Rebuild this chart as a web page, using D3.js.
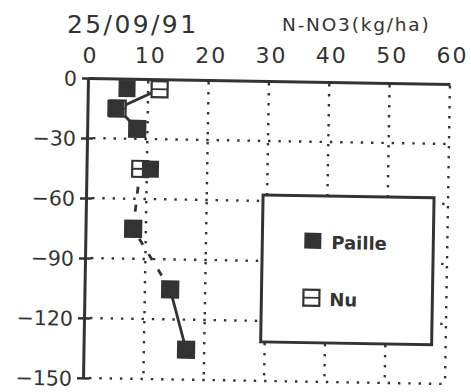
<!DOCTYPE html>
<html><head><meta charset="utf-8">
<script src="https://cdn.jsdelivr.net/npm/d3@7"></script>
<style>body{margin:0;background:#fff}</style>
</head><body>
<script>
const depths = [-5, -15, -25, -45, -75, -105, -135];
const paille = [6.5, 4.7, 8.3, 10.6, 7.9, 14.2, 17.0];
const nu = [11.9, 5.0, 8.3, 8.9, 7.9, 14.2, 17.0];
const xTicks = [0, 10, 20, 30, 40, 50, 60];
const yTicks = [0, -30, -60, -90, -120, -150];
const title = "25/09/91";
const unitLabel = "N-NO3(kg/ha)";
const seriesNames = ["Paille", "Nu"];

const W = 471, H = 392;
const ink = "#333";
const font = "'DejaVu Sans', Verdana, sans-serif";
const svg = d3.select("body").append("svg").attr("width", W).attr("height", H);
const x = d3.scaleLinear().domain([0, 60]).range([88, 450]);
const y = d3.scaleLinear().domain([0, -150]).range([78, 378]);

// frame drawn slightly skewed, as in the scanned original
const plot = svg.append("g").attr("transform", `rotate(0.95,${x(0)},${y(0)})`);

// grid
plot.append("g").selectAll("line").data(xTicks.slice(1)).join("line")
  .attr("x1", d => x(d)).attr("x2", d => x(d)).attr("y1", y(0) + 2).attr("y2", y(-150))
  .attr("stroke", ink).attr("stroke-width", 2.4).attr("stroke-dasharray", "2.4,7.6");
plot.append("g").selectAll("line").data(yTicks.slice(1)).join("line")
  .attr("x1", x(0) + 6).attr("x2", x(60)).attr("y1", d => y(d)).attr("y2", d => y(d))
  .attr("stroke", ink).attr("stroke-width", 2.4).attr("stroke-dasharray", "2.4,7.9");

// top axis line (labels drawn unrotated below)
const topLine = plot.append("g").attr("transform", `translate(0,${y(0)})`)
  .call(d3.axisTop(x).tickValues([]).tickSizeOuter(0));
topLine.select(".domain").attr("stroke", ink).attr("stroke-width", 3);

const leftAxis = plot.append("g").attr("transform", `translate(${x(0)},0)`)
  .call(d3.axisLeft(y).tickValues(yTicks).tickSize(6).tickSizeOuter(0).tickPadding(5)
    .tickFormat(d => d === 0 ? "0" : "\u2212" + Math.abs(d)));
leftAxis.select(".domain").attr("stroke", ink).attr("stroke-width", 3);
leftAxis.selectAll(".tick line").attr("stroke", ink).attr("stroke-width", 2.5).attr("x2", 6).attr("x1", -6);
leftAxis.selectAll("text").attr("font-family", font).attr("font-size", 20.5).attr("fill", ink).attr("dy", "0.36em");

const topLabels = svg.append("g").attr("transform", `translate(0,${y(0)})`)
  .call(d3.axisTop(x).tickValues(xTicks).tickSize(0).tickPadding(15));
topLabels.select(".domain").remove();
topLabels.selectAll("text").attr("font-family", font).attr("font-size", 22).attr("fill", ink)
  .attr("letter-spacing", 2).attr("dx", 2);

// titles
svg.append("text").attr("x", 67).attr("y", 33).text(title)
  .attr("font-family", font).attr("font-size", 25).attr("letter-spacing", 2.4).attr("fill", ink);
svg.append("text").attr("x", 282).attr("y", 31).text(unitLabel)
  .attr("font-family", font).attr("font-size", 18.5).attr("letter-spacing", 1.8).attr("fill", ink);

// connecting line (partly faded in the original)
const line = d3.line().x(d => x(d[0])).y(d => y(d[1]));
const pts = nu.map((v, i) => [v, depths[i]]);
plot.append("path").datum(pts.slice(0, 3))
  .attr("d", line).attr("fill", "none").attr("stroke", ink).attr("stroke-width", 2.8);
plot.append("path").datum(pts.slice(3, 6))
  .attr("d", line).attr("fill", "none").attr("stroke", ink).attr("stroke-width", 2.8)
  .attr("stroke-dasharray", "7,11");
plot.append("path").datum(pts.slice(5))
  .attr("d", line).attr("fill", "none").attr("stroke", ink).attr("stroke-width", 2.8);

const S = 16;
function openSq(g, cx, cy) {
  g.append("rect").attr("x", cx - S/2).attr("y", cy - S/2).attr("width", S).attr("height", S)
    .attr("fill", "#fff").attr("stroke", ink).attr("stroke-width", 2.2);
  g.append("line").attr("x1", cx - S/2).attr("x2", cx + S/2).attr("y1", cy).attr("y2", cy)
    .attr("stroke", ink).attr("stroke-width", 1.8);
}
const gm = plot.append("g");
nu.forEach((v, i) => openSq(gm, x(v), y(depths[i])));
gm.selectAll("rect.p").data(paille).join("rect").attr("class", "p")
  .attr("x", (d, i) => x(d) - 8.5).attr("y", (d, i) => y(depths[i]) - 8.5)
  .attr("width", 17).attr("height", 17).attr("fill", ink);

// legend
plot.append("rect").attr("x", 265).attr("y", 192).attr("width", 171).attr("height", 147)
  .attr("fill", "#fff").attr("stroke", ink).attr("stroke-width", 3);
plot.append("rect").attr("x", 307).attr("y", 229).attr("width", 17).attr("height", 16).attr("fill", ink);
plot.append("text").attr("x", 334).attr("y", 245).text(seriesNames[0])
  .attr("font-family", font).attr("font-size", 18).attr("font-weight", "bold").attr("fill", ink);
openSq(plot, 315, 294);
plot.append("text").attr("x", 333).attr("y", 302).text(seriesNames[1])
  .attr("font-family", font).attr("font-size", 18).attr("font-weight", "bold").attr("fill", ink);
</script>
</body></html>
